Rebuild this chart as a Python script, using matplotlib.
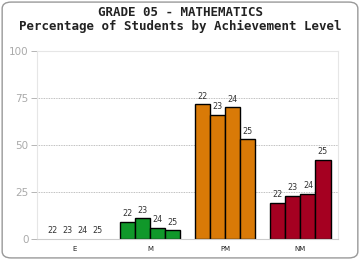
import numpy as np
import matplotlib.pyplot as plt
from matplotlib.patches import FancyBboxPatch

# ---- data
levels = ["E", "M", "PM", "NM"]
years = ["22", "23", "24", "25"]
pct_E = [0.0, 0.0, 0.0, 0.0]
pct_M = [8.9, 11.0, 5.7, 4.6]
pct_PM = [71.6, 65.8, 70.0, 53.0]
pct_NM = [19.0, 22.9, 23.9, 42.0]
level_colors = ["#1f4e9a", "#10982a", "#d97a07", "#a50021"]

title = "GRADE 05 - MATHEMATICS\nPercentage of Students by Achievement Level"

fig = plt.figure(figsize=(3.6, 2.6), dpi=100)
fig.patches.append(FancyBboxPatch((0.006, 0.008), 0.988, 0.984,
                                  boxstyle="round,pad=0,rounding_size=0.025",
                                  transform=fig.transFigure, facecolor="none",
                                  edgecolor="#999999", linewidth=1.0, zorder=-1))

ax = fig.add_axes([0.103, 0.081, 0.836, 0.723])
ax.set_facecolor("none")

bar_w = 0.2
series = [pct_E, pct_M, pct_PM, pct_NM]
for g, vals in enumerate(series):
    for i, v in enumerate(vals):
        x = g + (i - 1.5) * bar_w
        if v > 0:
            ax.bar(x, v, width=bar_w, color=level_colors[g],
                   edgecolor="black", linewidth=1.0, zorder=2)
        ax.text(x, v + 2.0, years[i], ha="center", va="bottom",
                fontsize=5.8, color="#333333", family="DejaVu Sans")

ax.set_xlim(-0.5, 3.5)
ax.set_ylim(0, 100)
ax.set_yticks([0, 25, 50, 75, 100])
ax.set_xticks(range(4))
ax.set_xticklabels(levels, fontsize=5, color="#222222")
ax.tick_params(axis="x", length=0, pad=5)
ax.tick_params(axis="y", length=4, width=0.6, color="#aaaaaa",
               labelsize=7.5, labelcolor="#aaaaaa", pad=2)
for y in [25, 50, 75]:
    ax.axhline(y, color="#aaaaaa", linewidth=0.6, linestyle=(0, (1, 1)), zorder=0)
for side in ["top", "right", "left", "bottom"]:
    ax.spines[side].set_color("#e6e6e6")
    ax.spines[side].set_linewidth(0.8)
ax.spines["bottom"].set_color("#cccccc")

fig.text(0.5, 0.975, title, ha="center", va="top", fontsize=9,
         fontweight="bold", family="DejaVu Sans Mono", color="#222222",
         linespacing=1.0)

fig.savefig("out.png", dpi=100)
